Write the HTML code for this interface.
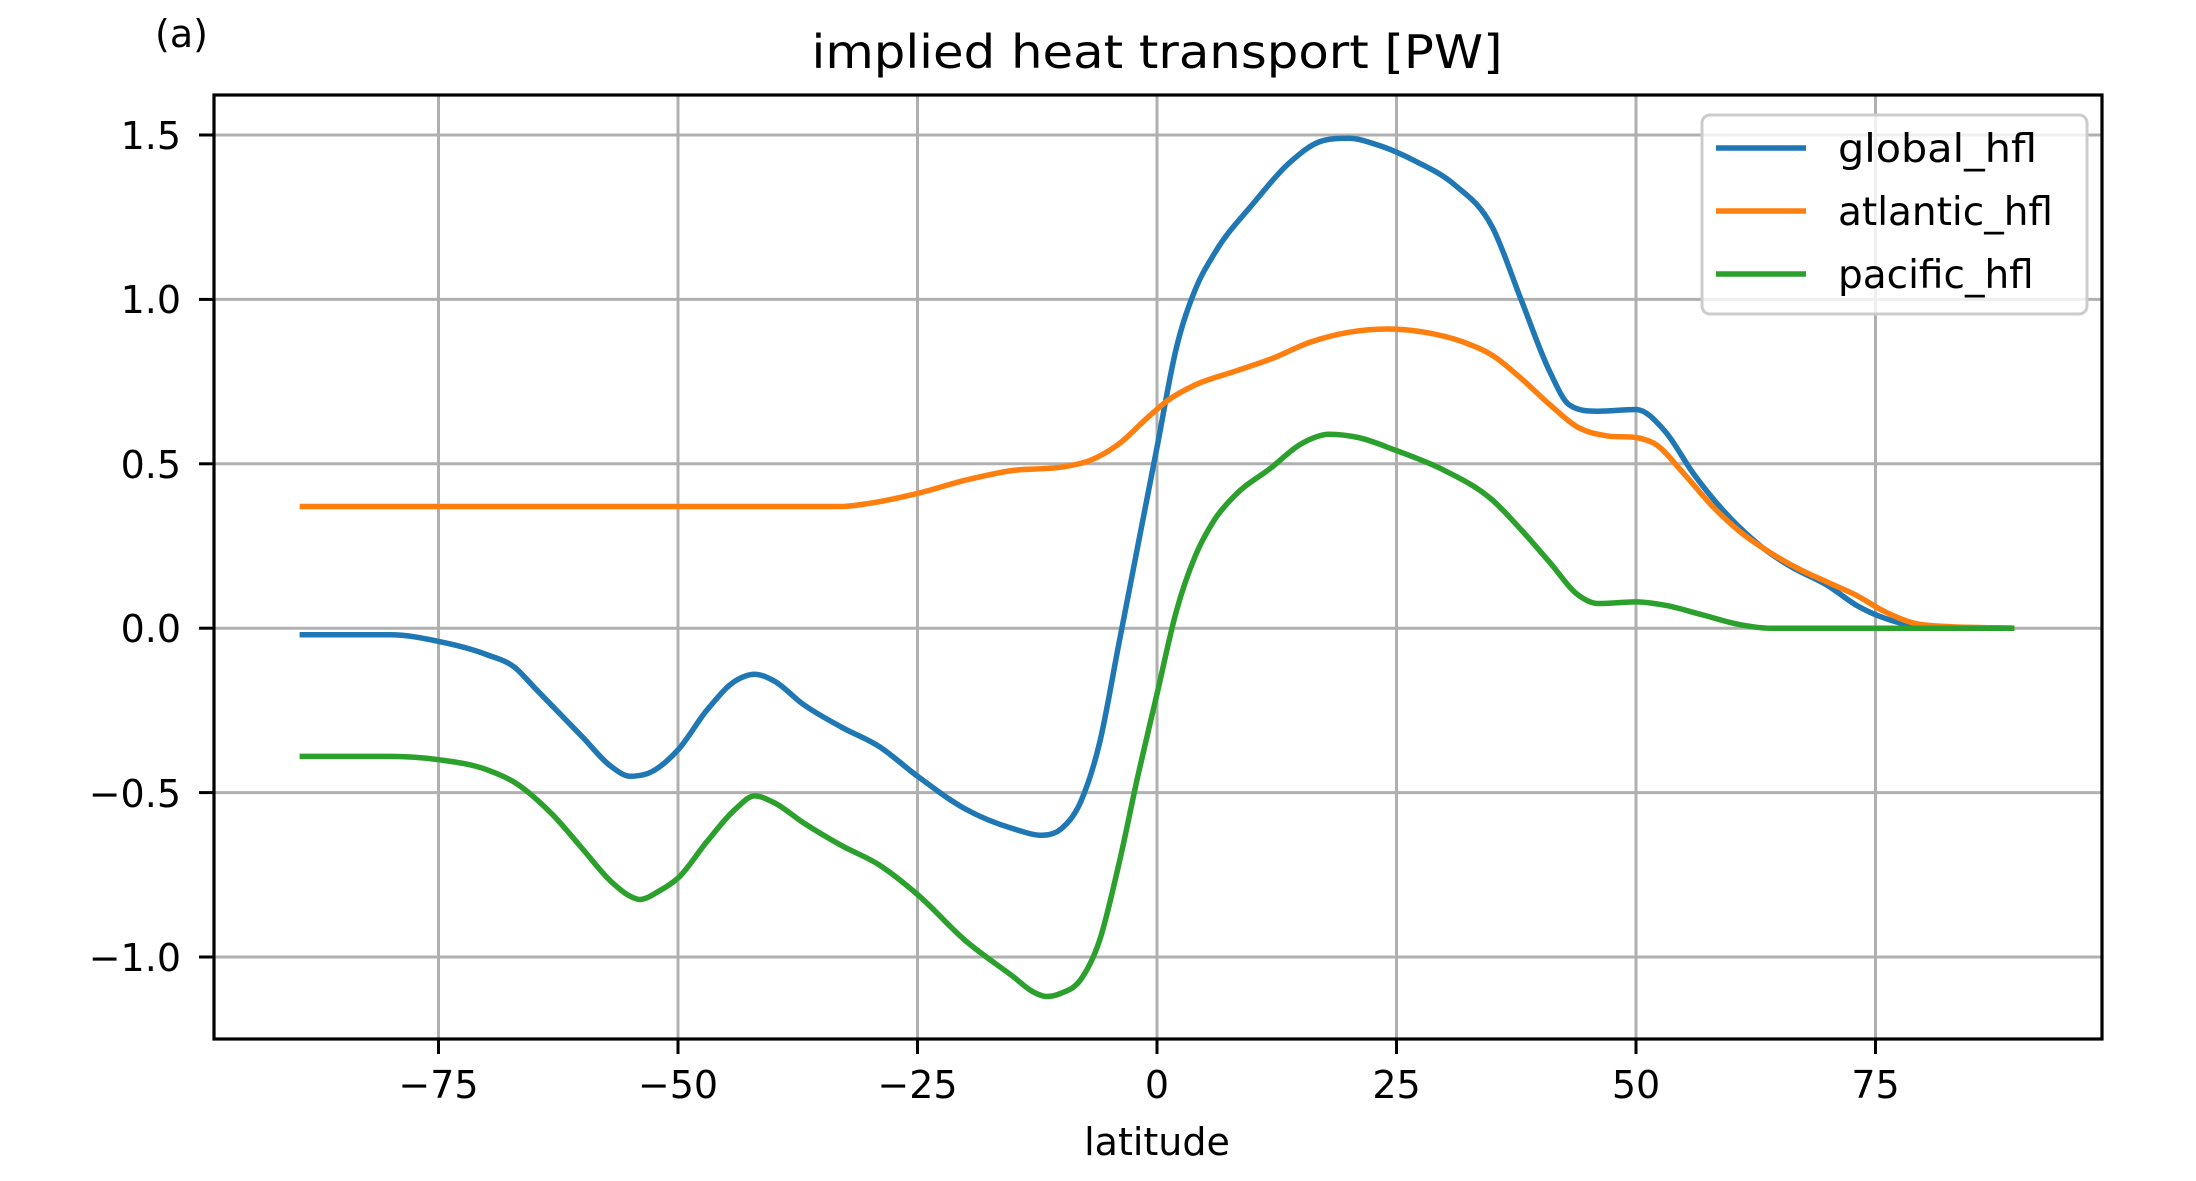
<!DOCTYPE html>
<html><head><meta charset="utf-8"><style>
html,body{margin:0;padding:0;background:#fff;}
svg{display:block;font-family:"DejaVu Sans","Liberation Sans",sans-serif;}
</style></head><body>
<svg id="s" width="2196" height="1181" viewBox="0 0 2196 1181" xmlns="http://www.w3.org/2000/svg">
<rect width="2196" height="1181" fill="#fff"/>
<g stroke="#b0b0b0" stroke-width="3">
<line x1="438.5" y1="95" x2="438.5" y2="1039"/>
<line x1="678" y1="95" x2="678" y2="1039"/>
<line x1="917.5" y1="95" x2="917.5" y2="1039"/>
<line x1="1157" y1="95" x2="1157" y2="1039"/>
<line x1="1396.5" y1="95" x2="1396.5" y2="1039"/>
<line x1="1636" y1="95" x2="1636" y2="1039"/>
<line x1="1875.5" y1="95" x2="1875.5" y2="1039"/>
<line x1="214" y1="135" x2="2102" y2="135"/>
<line x1="214" y1="299.4" x2="2102" y2="299.4"/>
<line x1="214" y1="463.8" x2="2102" y2="463.8"/>
<line x1="214" y1="628.2" x2="2102" y2="628.2"/>
<line x1="214" y1="792.6" x2="2102" y2="792.6"/>
<line x1="214" y1="957" x2="2102" y2="957"/>
</g>
<g id="series" fill="none" stroke-width="5.5" stroke-linejoin="round"></g>
<rect x="214" y="95" width="1888" height="944" fill="none" stroke="#000" stroke-width="3.2"/>
<g stroke="#000" stroke-width="3">
<line x1="438.5" y1="1039" x2="438.5" y2="1054"/>
<line x1="678" y1="1039" x2="678" y2="1054"/>
<line x1="917.5" y1="1039" x2="917.5" y2="1054"/>
<line x1="1157" y1="1039" x2="1157" y2="1054"/>
<line x1="1396.5" y1="1039" x2="1396.5" y2="1054"/>
<line x1="1636" y1="1039" x2="1636" y2="1054"/>
<line x1="1875.5" y1="1039" x2="1875.5" y2="1054"/>
<line x1="199" y1="135" x2="214" y2="135"/>
<line x1="199" y1="299.4" x2="214" y2="299.4"/>
<line x1="199" y1="463.8" x2="214" y2="463.8"/>
<line x1="199" y1="628.2" x2="214" y2="628.2"/>
<line x1="199" y1="792.6" x2="214" y2="792.6"/>
<line x1="199" y1="957" x2="214" y2="957"/>
</g>
<g font-size="38" fill="#000" text-anchor="middle">
<text x="438.5" y="1098">−75</text>
<text x="678" y="1098">−50</text>
<text x="917.5" y="1098">−25</text>
<text x="1157" y="1098">0</text>
<text x="1396.5" y="1098">25</text>
<text x="1636" y="1098">50</text>
<text x="1875.5" y="1098">75</text>
<text x="1157" y="1155">latitude</text>
</g>
<g font-size="38" fill="#000" text-anchor="end">
<text x="181" y="149">1.5</text>
<text x="181" y="313">1.0</text>
<text x="181" y="478">0.5</text>
<text x="181" y="642">0.0</text>
<text x="181" y="807">−0.5</text>
<text x="181" y="971">−1.0</text>
</g>
<text x="1157" y="68" font-size="46" text-anchor="middle" textLength="691" lengthAdjust="spacingAndGlyphs">implied heat transport [PW]</text>
<text x="155" y="47" font-size="38">(a)</text>
<rect x="1702" y="115" width="385" height="199" rx="8" fill="#fff" fill-opacity="0.8" stroke="#cccccc" stroke-width="3"/>
<g stroke-width="5.5">
<line x1="1716" y1="148" x2="1806" y2="148" stroke="#1f77b4"/>
<line x1="1716" y1="211" x2="1806" y2="211" stroke="#ff7f0e"/>
<line x1="1716" y1="274" x2="1806" y2="274" stroke="#2ca02c"/>
</g>
<g font-size="39" fill="#000">
<text x="1838" y="162" textLength="199" lengthAdjust="spacingAndGlyphs">global_hfl</text>
<text x="1838" y="225">atlantic_hfl</text>
<text x="1838" y="288">pacific_hfl</text>
</g>
</svg>
<script>
var D={
"#1f77b4":[-89.5,-0.02,-80,-0.02,-75,-0.04,-70,-0.08,-67,-0.12,-65,-0.18,-60,-0.33,-57,-0.42,-55,-0.45,-53,-0.44,-50,-0.37,-47,-0.25,-44,-0.16,-42,-0.14,-40,-0.16,-37,-0.23,-33,-0.3,-29,-0.36,-25,-0.45,-20,-0.55,-15,-0.61,-12,-0.63,-10,-0.61,-8,-0.53,-6,-0.35,-4,-0.05,-2,0.25,0,0.55,2,0.85,4,1.03,6,1.14,10,1.29,14,1.42,17,1.48,20,1.49,23,1.47,27,1.42,31,1.35,35,1.22,38,1.0,41,0.78,43,0.68,46,0.66,50,0.665,53,0.6,56,0.47,60,0.33,63,0.25,66,0.19,70,0.13,73,0.07,76,0.03,80,0.005,89.5,0],
"#ff7f0e":[-89.5,0.37,-33,0.37,-30,0.38,-25,0.41,-20,0.45,-15,0.48,-10,0.49,-7,0.51,-4,0.56,-1,0.64,1,0.69,4,0.74,8,0.78,12,0.82,16,0.87,20,0.9,24,0.91,28,0.9,32,0.87,35,0.83,38,0.76,41,0.68,44,0.61,47,0.585,50,0.58,52,0.56,55,0.47,58,0.37,61,0.29,64,0.23,67,0.18,70,0.14,73,0.1,76,0.05,80,0.01,89.5,0],
"#2ca02c":[-89.5,-0.39,-80,-0.39,-75,-0.4,-70,-0.43,-67,-0.47,-63,-0.57,-60,-0.67,-57,-0.77,-55,-0.815,-54,-0.825,-52,-0.8,-50,-0.76,-47,-0.65,-44,-0.55,-42,-0.51,-40,-0.53,-37,-0.59,-33,-0.66,-29,-0.72,-25,-0.81,-20,-0.95,-15,-1.06,-13,-1.105,-11.5,-1.12,-10,-1.11,-8,-1.07,-6,-0.95,-4,-0.72,-2,-0.45,0,-0.2,2,0.05,4,0.22,6,0.33,8,0.4,12,0.49,15,0.56,18,0.59,21,0.58,25,0.54,30,0.48,35,0.39,38,0.3,41,0.2,44,0.1,46,0.075,50,0.08,53,0.07,57,0.04,61,0.01,64,0,89.5,0]};
var g=document.getElementById("series"),NS="http://www.w3.org/2000/svg";
for(var c in D){var a=D[c],X=[],Y=[];for(var i=0;i<a.length;i+=2){X.push(1157+a[i]*9.58);Y.push(628.2-a[i+1]*328.8);}
var n=X.length,h=[],s=[],t=[];
for(var i=0;i<n-1;i++){h.push(X[i+1]-X[i]);s.push((Y[i+1]-Y[i])/h[i]);}
t[0]=s[0];t[n-1]=s[n-2];
for(var i=1;i<n-1;i++){var s0=s[i-1],s1=s[i];
if(s0*s1<=0){t[i]=0;}else{var p=(s0*h[i]+s1*h[i-1])/(h[i-1]+h[i]);
var m=Math.min(Math.abs(s0),Math.abs(s1),0.5*Math.abs(p))*2;t[i]=(p>0?1:-1)*Math.min(Math.abs(p),1.5*m);}}
var d="M"+X[0].toFixed(1)+","+Y[0].toFixed(1);
for(var i=0;i<n-1;i++){var dx=h[i]/3;
d+=" C"+(X[i]+dx).toFixed(1)+","+(Y[i]+t[i]*dx).toFixed(1)+" "+(X[i+1]-dx).toFixed(1)+","+(Y[i+1]-t[i+1]*dx).toFixed(1)+" "+X[i+1].toFixed(1)+","+Y[i+1].toFixed(1);}
var p=document.createElementNS(NS,"path");p.setAttribute("d",d);p.setAttribute("stroke",c);g.appendChild(p);}
</script>
</body></html>
